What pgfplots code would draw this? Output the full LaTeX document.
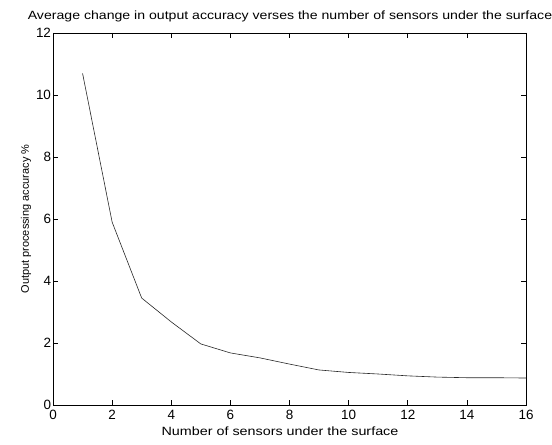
\documentclass[border=0pt]{standalone}
\usepackage{fontspec}
\setmainfont{Liberation Sans}
\usepackage{pgfplots}
\pgfplotsset{compat=1.18}
\begin{document}
\begin{tikzpicture}
\begin{axis}[
  name=ax,
  at={(0,0)}, anchor=south west,
  scale only axis,
  width=473bp, height=372bp,
  xmin=0, xmax=16, ymin=0, ymax=12,
  xtick={0,2,...,16}, ytick={0,2,...,12},
  tick align=inside,
  major tick length=5bp,
  tick style={black, line width=0.6pt},
  axis line style={black, line width=0.8pt},
  tick label style={font=\fontsize{13.5}{15}\selectfont},
  xticklabel style={yshift=-2bp},
  yticklabel style={xshift=1.5bp},
  /pgf/number format/assume math mode=true,
  ylabel={Output processing accuracy \%},
  label style={font=\fontsize{11}{13}\selectfont},
  ylabel style={yshift=-2bp},
  clip=false,
]
\addplot[black!85, line width=0.6pt] coordinates {
 (1,10.7) (2,5.9) (3,3.45) (4,2.68) (5,1.97) (6,1.68) (7,1.52) (8,1.32)
 (9,1.13) (10,1.05) (11,1.0) (12,0.94) (13,0.9) (14,0.88) (15,0.88) (16,0.87)
};
\end{axis}
\node[anchor=base, font=\fontsize{12}{14}\selectfont] at (237bp,385bp) {\scalebox{1.18}[1]{Average change in output accuracy verses the number of sensors under the surface}};
\node[anchor=base, font=\fontsize{12}{14}\selectfont] at (227bp,-30bp) {\scalebox{1.2}[1]{Number of sensors under the surface}};
\pgfresetboundingbox
\useasboundingbox (-53bp,-40bp) rectangle (499bp,405bp);
\end{tikzpicture}
\end{document}
